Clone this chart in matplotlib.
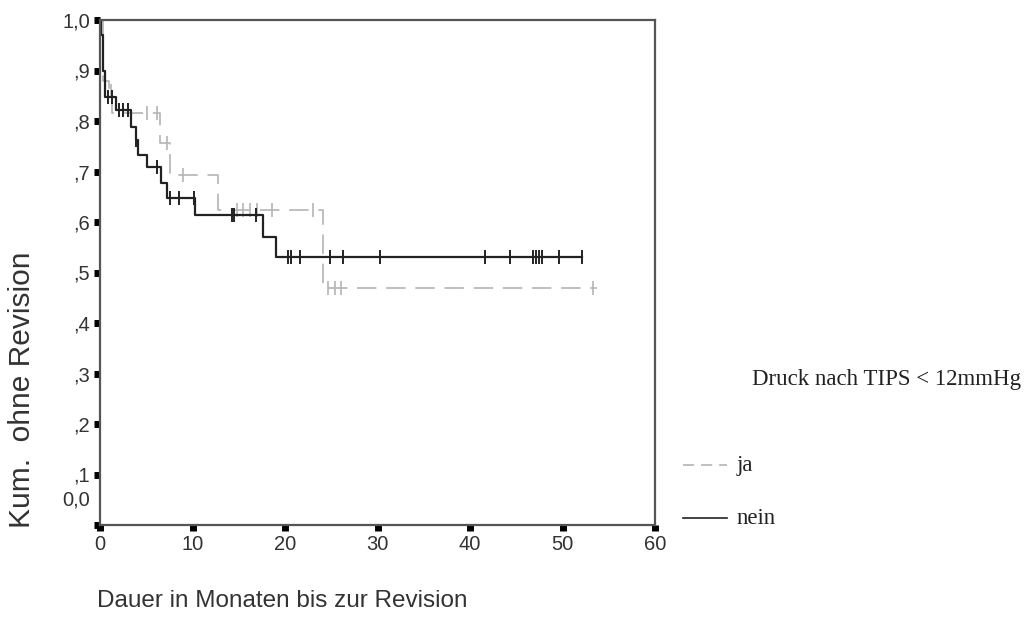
import numpy as np
import matplotlib
matplotlib.use("Agg")
import matplotlib.pyplot as plt
from matplotlib.lines import Line2D
from matplotlib.transforms import ScaledTranslation

# Kaplan-Meier Stufen (Zeit in Monaten, kum. Anteil ohne Revision)
nein_t = [0, 0.1, 0.3, 0.5, 1.7, 3.4, 3.9, 4.1, 5.1, 6.6, 7.2, 10.3, 17.6, 19.0]
nein_s = [1.0, 0.97, 0.90, 0.848, 0.822, 0.788, 0.762, 0.733, 0.709, 0.677, 0.647, 0.614, 0.570, 0.531]
nein_ende = 52.1
nein_zens = [0.9, 1.3, 2.0, 2.5, 3.0, 3.9, 6.2, 7.6, 8.5, 10.2, 14.3, 14.5, 16.9,
             20.3, 20.6, 21.6, 24.9, 26.3, 30.3, 41.6, 44.3, 46.8, 47.1, 47.5,
             47.8, 49.6, 52.1]

ja_t = [0, 0.3, 1.0, 1.3, 6.5, 7.6, 12.8, 24.1]
ja_s = [1.0, 0.88, 0.86, 0.816, 0.756, 0.693, 0.624, 0.469]
ja_ende = 53.7
ja_zens = [1.2, 5.1, 6.2, 7.2, 9.0, 14.8, 15.5, 16.2, 17.0, 18.6, 23.0,
           24.6, 25.4, 26.0, 53.3]

xticks = [0, 10, 20, 30, 40, 50, 60]
yticks = [0.0, 0.1, 0.2, 0.3, 0.4, 0.5, 0.6, 0.7, 0.8, 0.9, 1.0]
ylabels = ["0,0", ",1", ",2", ",3", ",4", ",5", ",6", ",7", ",8", ",9", "1,0"]

plt.rcParams["font.family"] = ["Liberation Sans", "DejaVu Sans"]
plt.rcParams["lines.scale_dashes"] = False
serif = ["Liberation Serif", "DejaVu Serif"]

fig = plt.figure(figsize=(10.27, 6.39), dpi=100)
ax = fig.add_axes([100 / 1027, 1 - 525 / 639, 555 / 1027, 505 / 639])


def stufe(t, s, ende):
    tt = list(t) + [ende]
    ss = list(s) + [s[-1]]
    return tt, ss


def wert_bei(t, s, x):
    i = np.searchsorted(t, x, side="right") - 1
    return s[i]


grau = "#b4b4b4"
tt, ss = stufe(ja_t, ja_s, ja_ende)
ax.step(tt, ss, where="post", color=grau, lw=1.2, dashes=(14, 7))
ax.plot(ja_zens, [wert_bei(ja_t, ja_s, x) for x in ja_zens], ls="none",
        marker="|", ms=10, mew=1.2, color=grau)

tt, ss = stufe(nein_t, nein_s, nein_ende)
ax.step(tt, ss, where="post", color="#222222", lw=1.6)
ax.plot(nein_zens, [wert_bei(nein_t, nein_s, x) for x in nein_zens], ls="none",
        marker="|", ms=10, mew=1.4, color="#222222")

ax.set_xlim(0, 60)
ax.set_ylim(0, 1.0)
ax.set_xticks(xticks)
ax.set_yticks(yticks)
ax.set_yticklabels(ylabels)
for sp in ax.spines.values():
    sp.set_color("#555555")
    sp.set_linewidth(1.6)
ax.tick_params(direction="out", length=4, width=5, color="black",
               labelsize=14.5, labelcolor="#333333", pad=3)

# SPSS setzt "0,0" etwas hoeher
lab0 = ax.get_yticklabels()[0]
lab0.set_transform(lab0.get_transform() + ScaledTranslation(0, 0.27, fig.dpi_scale_trans))

fig.text(22 / 1027, 1 - 390 / 639, "Kum.  ohne Revision", rotation=90,
         ha="center", va="center", fontsize=21.5, color="#333333")
fig.text(97 / 1027, 1 - 601 / 639, "Dauer in Monaten bis zur Revision",
         ha="left", va="center", fontsize=17.5, color="#333333")

# Legende
fig.text(752 / 1027, 1 - 379 / 639, "Druck nach TIPS < 12mmHg", ha="left", va="center",
         fontsize=16.5, family=serif, color="#222222")
fig.add_artist(Line2D([683 / 1027, 727 / 1027], [1 - 465 / 639] * 2, color=grau,
                      lw=1.2, dashes=(8, 5)))
fig.add_artist(Line2D([683 / 1027, 727 / 1027], [1 - 518 / 639] * 2, color="#222222",
                      lw=1.2))
fig.text(737 / 1027, 1 - 465 / 639, "ja", ha="left", va="center", fontsize=16.5,
         family=serif, color="#222222")
fig.text(737 / 1027, 1 - 518 / 639, "nein", ha="left", va="center", fontsize=16.5,
         family=serif, color="#222222")

fig.savefig("out.png", dpi=100)
